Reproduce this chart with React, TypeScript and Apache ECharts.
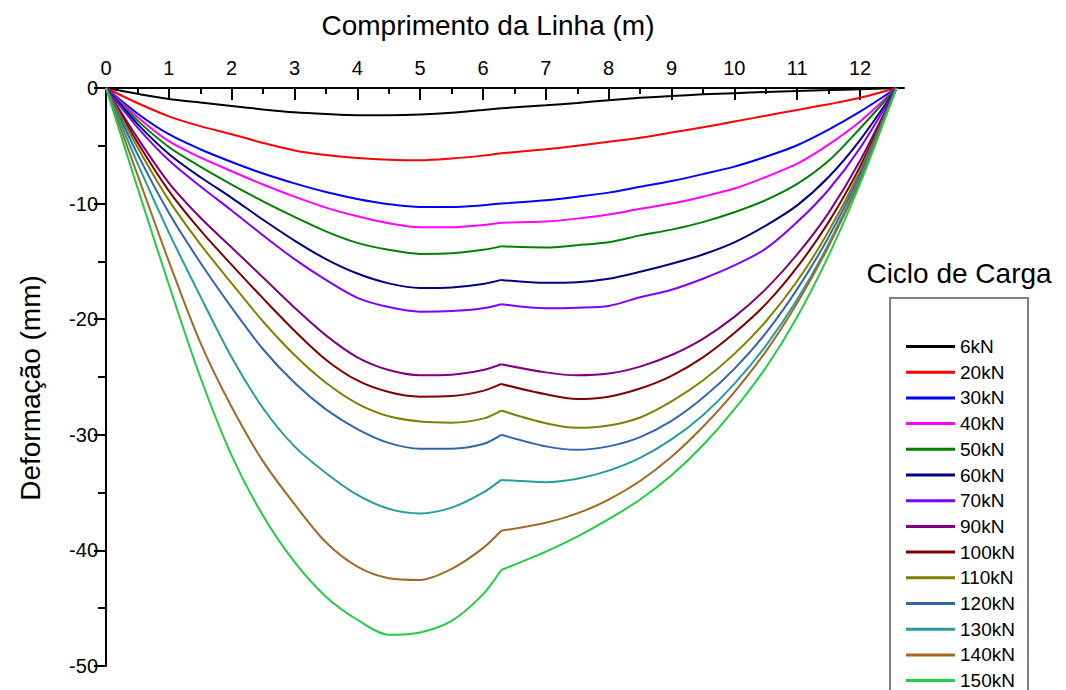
import React, { useEffect, useRef } from "react";
import * as echarts from "echarts";

const FONT = "'Liberation Sans', Arial, Helvetica, sans-serif";

// Positions along the line (m); index 13 (6.29 m) is the kink shared by both halves
const X = [0, 0.5, 1, 1.5, 2, 2.5, 3, 3.5, 4, 4.5, 5, 5.5, 6, 6.29, 7, 7.5, 8, 8.5, 9, 9.5, 10, 10.5, 11, 11.5, 12, 12.58];
const KINK_INDEX = 13;

const SERIES_NAMES = ["6kN", "20kN", "30kN", "40kN", "50kN", "60kN", "70kN", "90kN", "100kN", "110kN", "120kN", "130kN", "140kN", "150kN"];

const COLORS = ["#000000", "#ff0000", "#0000ff", "#ff00ff", "#008000", "#000080", "#8000ff", "#800080", "#800000", "#808000", "#3366a8", "#289c9c", "#9e6a26", "#22cc44"];

const s6 = [0, -0.5, -0.95, -1.25, -1.55, -1.85, -2.1, -2.25, -2.35, -2.35, -2.3, -2.15, -1.9, -1.75, -1.5, -1.3, -1.05, -0.85, -0.7, -0.55, -0.45, -0.35, -0.25, -0.18, -0.1, 0];
const s20 = [0, -1.3, -2.45, -3.3, -4.0, -4.75, -5.4, -5.8, -6.05, -6.2, -6.25, -6.1, -5.85, -5.65, -5.3, -5.0, -4.65, -4.3, -3.85, -3.4, -2.9, -2.4, -1.9, -1.4, -0.85, 0];
const s30 = [0, -2.2, -4.0, -5.3, -6.4, -7.4, -8.25, -9.0, -9.6, -10.05, -10.3, -10.3, -10.15, -10.0, -9.7, -9.4, -9.05, -8.55, -8.05, -7.45, -6.8, -5.95, -4.95, -3.6, -2.05, 0];
const s40 = [0, -2.5, -4.6, -6.0, -7.2, -8.35, -9.4, -10.35, -11.1, -11.7, -12.05, -12.05, -11.85, -11.65, -11.55, -11.3, -10.95, -10.45, -10.0, -9.4, -8.7, -7.7, -6.55, -4.9, -2.9, 0];
const s50 = [0, -2.8, -5.1, -6.8, -8.35, -9.8, -11.15, -12.4, -13.4, -14.0, -14.35, -14.3, -14.0, -13.7, -13.8, -13.6, -13.35, -12.75, -12.25, -11.6, -10.75, -9.7, -8.3, -6.3, -3.5, 0];
const s60 = [0, -3.1, -5.7, -7.7, -9.5, -11.4, -13.2, -14.8, -16.05, -16.9, -17.3, -17.25, -16.95, -16.6, -16.85, -16.8, -16.5, -15.9, -15.2, -14.4, -13.35, -11.9, -10.15, -7.7, -4.5, 0];
const s70 = [0, -3.4, -6.25, -8.5, -10.6, -12.75, -14.8, -16.6, -18.15, -18.95, -19.35, -19.3, -19.05, -18.7, -19.05, -19.0, -18.85, -18.1, -17.45, -16.5, -15.35, -13.9, -11.6, -8.8, -5.2, 0];
const s90 = [0, -4.3, -8.2, -11.2, -13.8, -16.4, -19.0, -21.4, -23.3, -24.4, -24.85, -24.8, -24.4, -23.9, -24.6, -24.85, -24.7, -24.1, -23.1, -21.7, -19.8, -17.4, -14.4, -10.8, -6.3, 0];
const s100 = [0, -4.7, -8.9, -12.3, -15.3, -18.2, -21.0, -23.5, -25.3, -26.3, -26.7, -26.65, -26.2, -25.6, -26.5, -26.9, -26.7, -26.0, -24.9, -23.3, -21.2, -18.7, -15.5, -11.6, -6.8, 0];
const s110 = [0, -5.1, -9.7, -13.5, -16.9, -20.2, -23.1, -25.5, -27.3, -28.4, -28.85, -28.95, -28.6, -27.9, -29.0, -29.4, -29.2, -28.5, -27.1, -25.3, -23.0, -20.2, -16.7, -12.4, -7.2, 0];
const s120 = [0, -5.7, -10.8, -15.1, -19.0, -22.6, -25.5, -27.8, -29.5, -30.7, -31.2, -31.2, -30.8, -30.0, -31.0, -31.3, -31.0, -30.2, -28.8, -26.8, -24.3, -21.2, -17.4, -12.9, -7.5, 0];
const s130 = [0, -6.5, -12.5, -18.0, -23.3, -27.7, -31.0, -33.3, -35.2, -36.4, -36.8, -36.3, -35.0, -33.9, -34.1, -33.8, -33.1, -32.0, -30.4, -28.3, -25.6, -22.3, -18.3, -13.5, -7.8, 0];
const s140 = [0, -7.5, -15.0, -22.0, -27.6, -32.3, -36.0, -39.3, -41.4, -42.4, -42.55, -41.6, -39.8, -38.3, -37.6, -36.8, -35.6, -34.0, -31.9, -29.3, -26.3, -22.8, -18.6, -13.7, -8.0, 0];
const s150 = [0, -8.6, -17.0, -25.0, -31.8, -37.0, -41.0, -44.0, -46.0, -47.3, -47.1, -46.1, -43.8, -41.7, -40.1, -38.8, -37.3, -35.6, -33.5, -30.9, -27.8, -24.2, -19.8, -14.5, -8.3, 0];

const VALUES = [s6, s20, s30, s40, s50, s60, s70, s90, s100, s110, s120, s130, s140, s150];

const X_MAJOR_TICKS = [0, 1, 2, 3, 4, 5, 6, 7, 8, 9, 10, 11, 12];
const X_MINOR_TICKS = [0.5, 1.5, 2.5, 3.5, 4.5, 5.5, 6.5, 7.5, 8.5, 9.5, 10.5, 11.5, 12.5];

const X_TITLE = "Comprimento da Linha (m)";
const Y_TITLE = "Deformação (mm)";
const LEGEND_TITLE = "Ciclo de Carga";

export default function App() {
  const ref = useRef<HTMLDivElement>(null);

  useEffect(() => {
    if (!ref.current) return;
    const chart = echarts.init(ref.current, null, { renderer: "svg" });
    const gridRect = { left: 106, top: 88, width: 798, height: 578 };

    const pairs = (vals: number[]) => X.map((x, j) => [x, vals[j]]);
    const series: any[] = [];
    SERIES_NAMES.forEach((name, i) => {
      const all = pairs(VALUES[i]);
      const parts = [all.slice(0, KINK_INDEX + 1), all.slice(KINK_INDEX)];
      parts.forEach((data) => {
        series.push({
          name,
          type: "line",
          xAxisIndex: 0,
          yAxisIndex: 0,
          data,
          showSymbol: false,
          symbol: "none",
          smooth: 0.3,
          color: COLORS[i],
          lineStyle: { width: 2, color: COLORS[i] },
          itemStyle: { color: COLORS[i] },
        });
      });
    });

    const option = {
      animation: false,
      backgroundColor: "#ffffff",
      grid: [gridRect, gridRect],
      xAxis: [
        {
          type: "value",
          gridIndex: 0,
          position: "top",
          min: 0,
          max: 12.7,
          interval: 1,
          axisLine: { show: true, lineStyle: { color: "#000", width: 2 } },
          axisTick: { show: true, inside: true, length: 12, customValues: X_MAJOR_TICKS, lineStyle: { color: "#000", width: 2 } },
          axisLabel: { show: true, customValues: X_MAJOR_TICKS, margin: 10, fontSize: 20, color: "#000", fontFamily: FONT },
          splitLine: { show: false },
        },
        {
          type: "value",
          gridIndex: 1,
          position: "top",
          min: 0,
          max: 12.7,
          interval: 1,
          axisLine: { show: false },
          axisTick: { show: true, inside: true, length: 6, customValues: X_MINOR_TICKS, lineStyle: { color: "#000", width: 2 } },
          axisLabel: { show: false },
          splitLine: { show: false },
        },
      ],
      yAxis: [
        {
          type: "value",
          gridIndex: 0,
          min: -50,
          max: 0,
          interval: 10,
          axisLine: { show: true, lineStyle: { color: "#000", width: 2 } },
          axisTick: { show: true, inside: false, length: 12, lineStyle: { color: "#000", width: 2 } },
          minorTick: { show: true, splitNumber: 2, length: 8, lineStyle: { color: "#000", width: 2 } },
          axisLabel: { show: true, margin: 8, fontSize: 20, color: "#000", fontFamily: FONT },
          splitLine: { show: false },
        },
        { type: "value", gridIndex: 1, min: -50, max: 0, show: false },
      ],
      legend: {
        orient: "vertical",
        left: 906,
        top: 337,
        height: 420,
        itemWidth: 49,
        itemHeight: 3,
        itemGap: 6.7,
        icon: "rect",
        padding: 0,
        textStyle: { fontSize: 19, lineHeight: 19, color: "#000", fontFamily: FONT },
        data: SERIES_NAMES,
      },
      graphic: [
        {
          type: "text",
          x: 488,
          y: 25,
          style: { text: X_TITLE, font: `28px ${FONT}`, fill: "#000", textAlign: "center", textVerticalAlign: "middle" },
        },
        {
          type: "text",
          x: 30,
          y: 388,
          rotation: Math.PI / 2,
          style: { text: Y_TITLE, font: `28px ${FONT}`, fill: "#000", textAlign: "center", textVerticalAlign: "middle" },
        },
        {
          type: "text",
          x: 959,
          y: 273,
          style: { text: LEGEND_TITLE, font: `28px ${FONT}`, fill: "#000", textAlign: "center", textVerticalAlign: "middle" },
        },
        {
          type: "rect",
          x: 890,
          y: 298,
          shape: { width: 138, height: 420 },
          style: { fill: "none", stroke: "#808080", lineWidth: 2 },
        },
      ],
      series,
    };
    chart.setOption(option as any);
    return () => chart.dispose();
  }, []);

  return (
    <div
      ref={ref}
      style={{ position: "fixed", left: 0, top: 0, width: 1066, height: 690, background: "#fff" }}
    />
  );
}
